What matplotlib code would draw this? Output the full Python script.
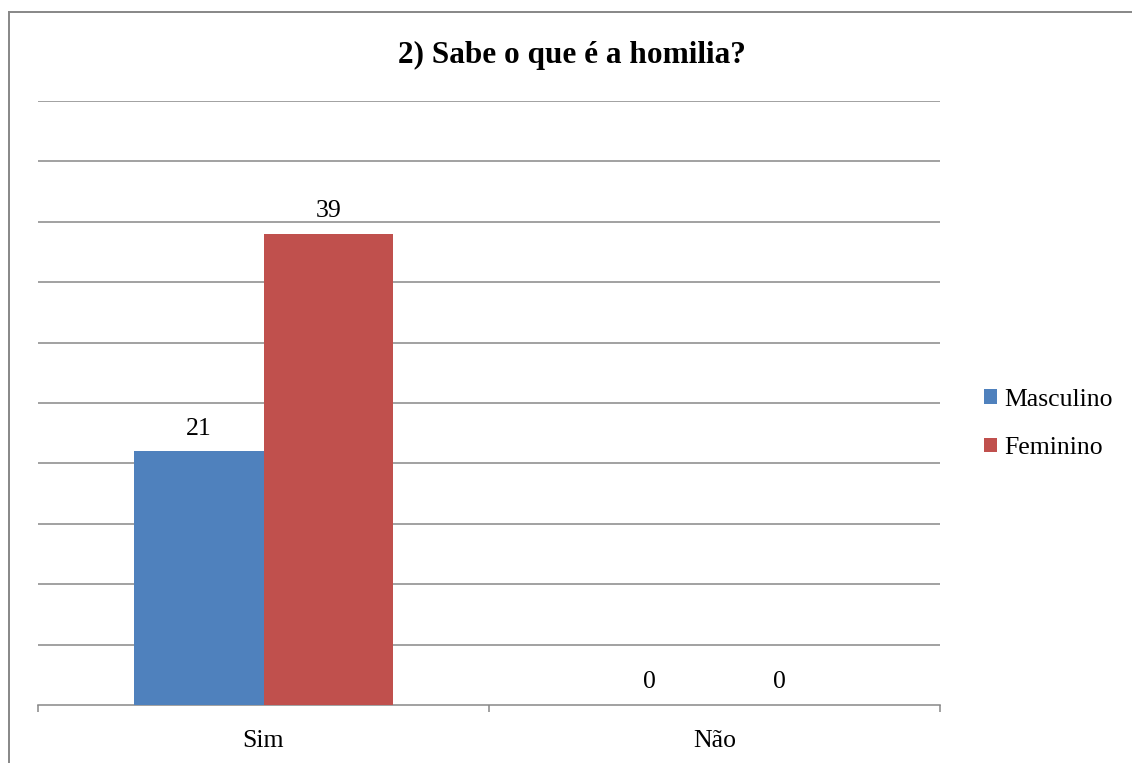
import matplotlib
matplotlib.use("Agg")
import matplotlib.pyplot as plt
from matplotlib.patches import Patch
from matplotlib.lines import Line2D
import numpy as np

# data
categories = ["Sim", "Não"]
series_names = ["Masculino", "Feminino"]
masculino = [21, 0]
feminino = [39, 0]
title = "2) Sabe o que é a homilia?"

blue = "#4F81BD"
red = "#C0504D"
gray = "#878787"

plt.rcParams["font.family"] = ["Liberation Serif", "DejaVu Serif"]

fig = plt.figure(figsize=(11.32, 7.63), dpi=100)
ax = fig.add_axes([38 / 1132, 1 - 705 / 763, (940 - 38) / 1132, (705 - 101) / 763])

x = np.arange(len(categories))
w = 0.288
b1 = ax.bar(x - w / 2, masculino, width=w, color=blue, zorder=3)
b2 = ax.bar(x + w / 2, feminino, width=w, color=red, zorder=3)

for bars, vals in ((b1, masculino), (b2, feminino)):
    for r, v in zip(bars, vals):
        ax.annotate(str(v), (r.get_x() + r.get_width() / 2, v),
                    xytext=(0, 12), textcoords="offset points",
                    ha="center", va="baseline", fontsize=18.5, color="black")

ax.set_xlim(-0.5, len(categories) - 0.5)
ax.set_ylim(0, 50)
ax.set_yticks(np.arange(5, 51, 5))
ax.tick_params(axis="y", length=0, labelleft=False)
ax.yaxis.grid(True, color=gray, linewidth=1.1, zorder=0)

# ticks at category boundaries, labels at centres
ax.set_xticks(np.arange(-0.5, len(categories), 1.0))
ax.set_xticklabels([])
ax.tick_params(axis="x", which="major", length=5, width=1.1, color=gray, direction="out")
ax.set_xticks(x, minor=True)
ax.set_xticklabels(categories, minor=True, fontsize=18.5)
ax.tick_params(axis="x", which="minor", length=0, pad=18)

for s in ["top", "right", "left"]:
    ax.spines[s].set_visible(False)
ax.spines["bottom"].set_color(gray)
ax.spines["bottom"].set_linewidth(1.1)

fig.text(572 / 1132, 1 - 63 / 763, title, ha="center", va="baseline",
         fontsize=22.5, fontweight="bold")

handles = [Patch(facecolor=blue), Patch(facecolor=red)]
fig.legend(handles, series_names, loc="center left",
           bbox_to_anchor=(984 / 1132, 1 - 424 / 763),
           frameon=False, fontsize=18.5, handlelength=0.5, handleheight=0.5,
           handletextpad=0.3, labelspacing=1.02, borderpad=0, borderaxespad=0)

# outer chart border (left and top visible)
fig.add_artist(Line2D([9 / 1132, 9 / 1132], [0, 1 - 12 / 763], transform=fig.transFigure,
                      color=gray, linewidth=1.4))
fig.add_artist(Line2D([9 / 1132, 1], [1 - 12 / 763, 1 - 12 / 763], transform=fig.transFigure,
                      color=gray, linewidth=1.4))

fig.savefig("out.png", dpi=100)
